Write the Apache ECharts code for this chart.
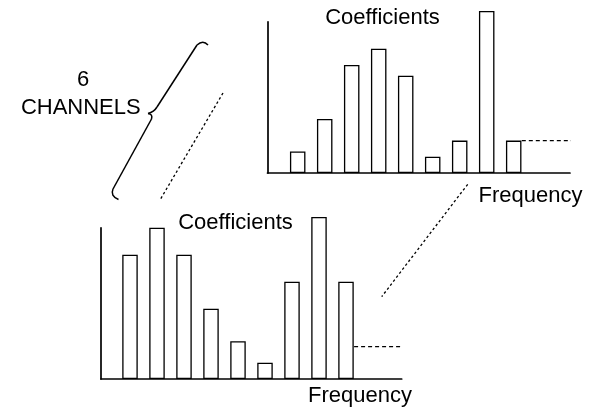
<!DOCTYPE html>
<html>
<head>
<meta charset="utf-8">
<script src="https://cdn.jsdelivr.net/npm/echarts@6/dist/echarts.min.js"></script>
<style>
html,body{margin:0;padding:0;background:#fff;}
#chart{width:591px;height:411px;}
</style>
</head>
<body>
<div id="chart"></div>
<script>
// ---- data ----
var topCoefficients = [4, 10, 20, 23, 18, 3, 6, 30, 6];
var bottomCoefficients = [23, 28, 23, 13, 7, 3, 18, 30, 18];
var topTrailLevel = 6;
var bottomTrailLevel = 6;
var yLabel = 'Coefficients';
var xLabel = 'Frequency';
var channelCount = '6';
var channelWord = 'CHANNELS';

// ---- helpers ----
var FONT = 'Liberation Sans, Arial, sans-serif';
function toPoints(vals) {
  return vals.map(function (v, i) { return [i + 1, v]; });
}
function barSeries(vals, idx) {
  return {
    type: 'bar',
    xAxisIndex: idx,
    yAxisIndex: idx,
    data: toPoints(vals),
    barWidth: 15.5,
    clip: false,
    silent: true,
    itemStyle: { color: '#fff', borderColor: '#000', borderWidth: 1.3 }
  };
}
function trailSeries(idx, level, start, end) {
  return {
    type: 'line',
    xAxisIndex: idx,
    yAxisIndex: idx,
    data: [[start, level], [end, level]],
    clip: false,
    silent: true,
    showSymbol: false,
    symbol: 'none',
    lineStyle: { color: '#000', width: 1.2, type: [4, 3] }
  };
}
function axisX(idx, min, max) {
  return {
    type: 'value', gridIndex: idx, min: min, max: max,
    axisLine: { show: true, onZero: false, lineStyle: { color: '#000', width: 1.7 } },
    axisTick: { show: false }, axisLabel: { show: false }, splitLine: { show: false }
  };
}
function axisY(idx) {
  return {
    type: 'value', gridIndex: idx, min: 0, max: 28,
    axisLine: { show: true, onZero: false, lineStyle: { color: '#000', width: 1.7 } },
    axisTick: { show: false }, axisLabel: { show: false }, splitLine: { show: false }
  };
}
function txt(s, x, y) {
  return {
    type: 'text', x: x, y: y, silent: true,
    style: { text: s, fill: '#000', font: '22px ' + FONT, textAlign: 'center', textVerticalAlign: 'middle' }
  };
}
function seg(x1, y1, x2, y2, dash) {
  var st = { stroke: '#000', lineWidth: dash ? 1.3 : 1.5, fill: null };
  if (dash) st.lineDash = dash;
  return { type: 'line', silent: true, shape: { x1: x1, y1: y1, x2: x2, y2: y2 }, style: st };
}
function curve(x1, y1, cx, cy, x2, y2) {
  return {
    type: 'bezierCurve', silent: true,
    shape: { x1: x1, y1: y1, cpx1: cx, cpy1: cy, x2: x2, y2: y2 },
    style: { stroke: '#000', lineWidth: 1.5, fill: null }
  };
}

var chart = echarts.init(document.getElementById('chart'), null, { renderer: 'canvas' });
chart.setOption({
  animation: false,
  backgroundColor: '#fff',
  grid: [
    { left: 267.5, top: 21.8, width: 302.5, height: 151.2 },
    { left: 101, top: 227.8, width: 300.7, height: 151.2 }
  ],
  xAxis: [axisX(0, -0.1185, 11.085), axisX(1, -0.074, 11.063)],
  yAxis: [axisY(0), axisY(1)],
  series: [
    barSeries(topCoefficients, 0),
    barSeries(bottomCoefficients, 1),
    trailSeries(0, topTrailLevel, 9.3, 11.52),
    trailSeries(1, bottomTrailLevel, 9.3, 11.49)
  ],
  graphic: [
    txt(yLabel, 382.5, 18.3),
    txt(yLabel, 235.5, 223),
    txt(xLabel, 530.5, 195.7),
    txt(xLabel, 360, 396),
    txt(channelCount, 83, 79.8),
    txt(channelWord, 80.8, 108.2),
    // brace
    curve(208, 45, 203, 39.5, 197, 45),
    seg(197, 45, 157, 107),
    curve(157, 107, 154, 112, 148, 113.5),
    curve(148, 113.5, 153, 114, 151.5, 119),
    seg(151.5, 119, 113, 189),
    curve(113, 189, 110, 196, 118.5, 199.5),
    // dotted connector lines
    seg(223, 93, 160, 200, [2.5, 2.5]),
    seg(467.7, 184.3, 381.7, 296.7, [2.5, 2.5])
  ]
});
</script>
</body>
</html>
